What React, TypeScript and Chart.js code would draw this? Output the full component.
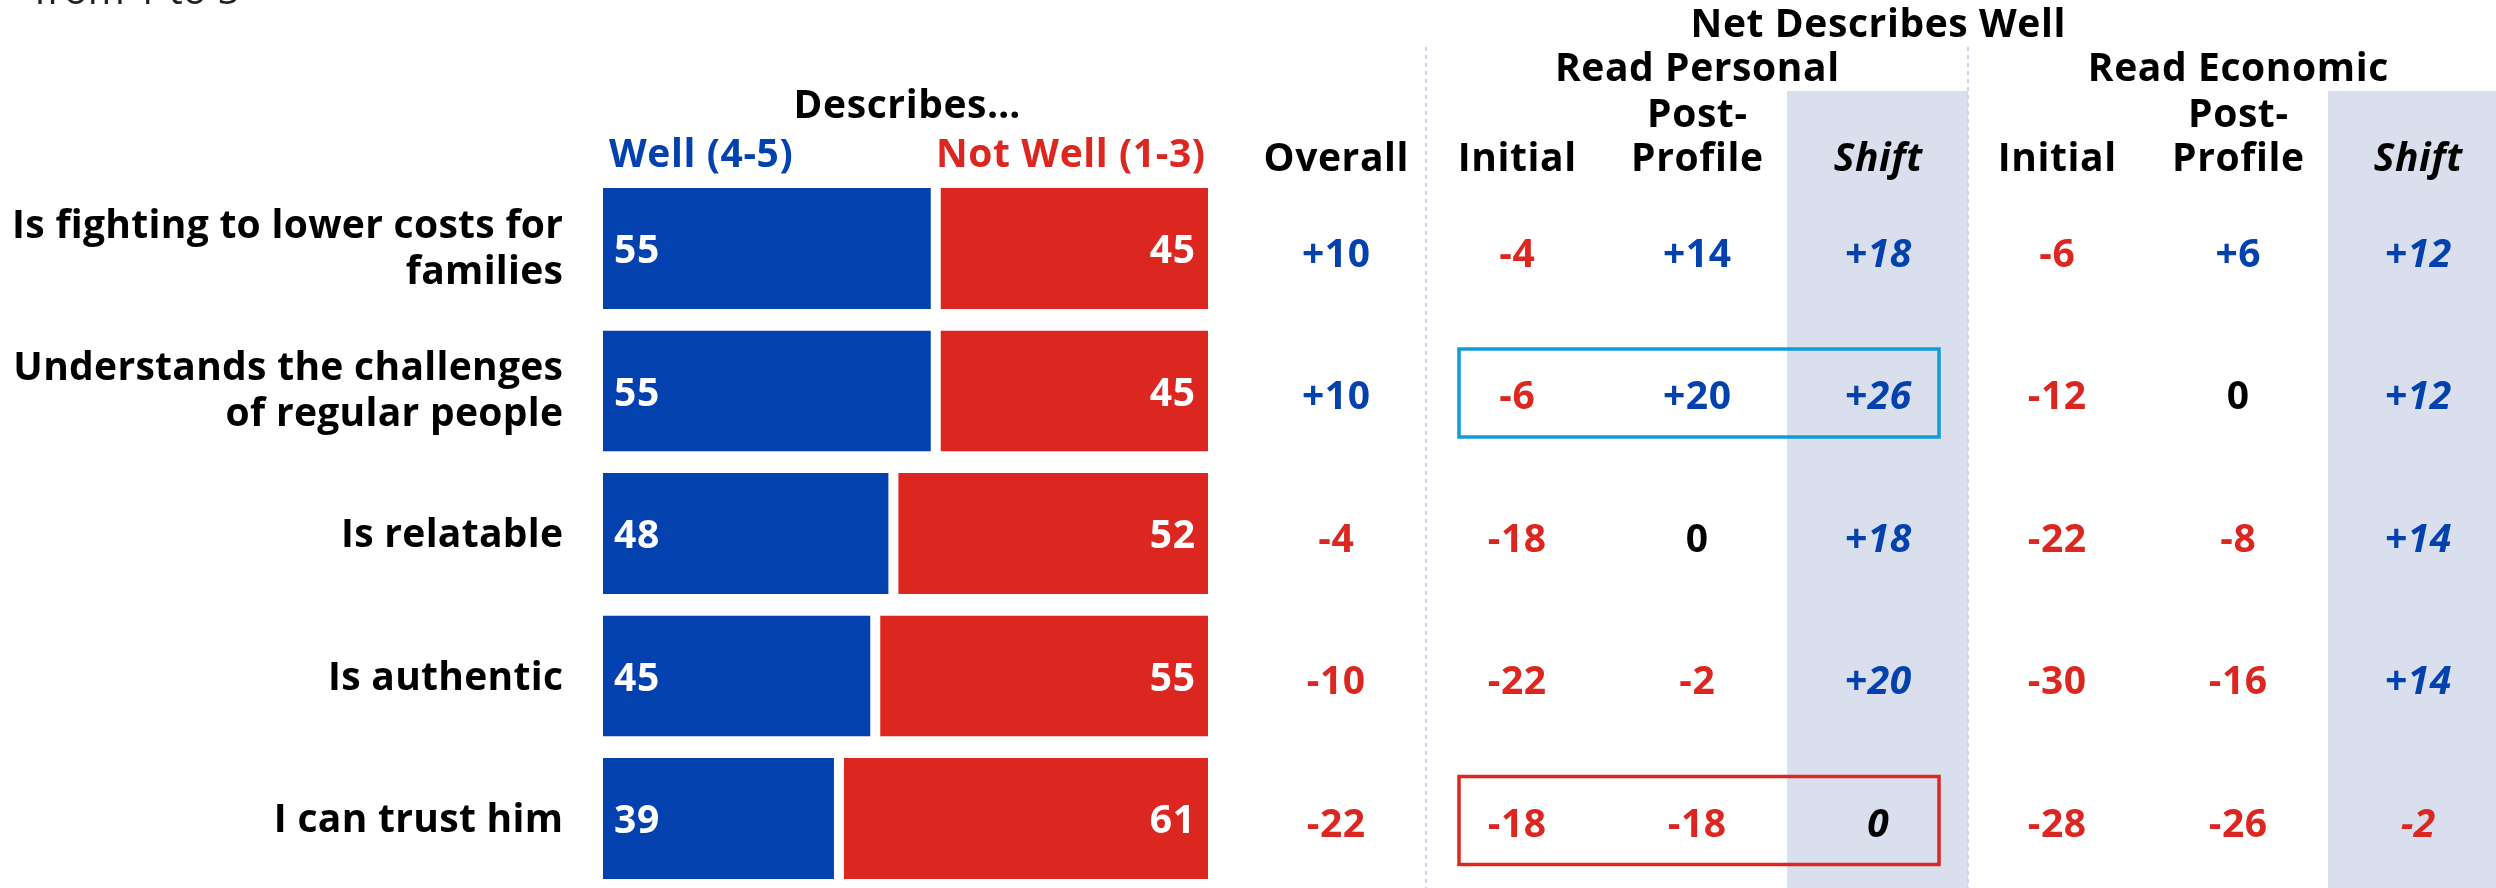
import React, { useEffect, useRef } from 'react';
import { Chart, registerables } from 'chart.js';

Chart.register(...registerables);

// ---------- data ----------
const categories: string[][] = [
  ['Is fighting to lower costs for', 'families'],
  ['Understands the challenges', 'of regular people'],
  ['Is relatable'],
  ['Is authentic'],
  ['I can trust him'],
];
const wellValues = [55, 55, 48, 45, 39];
const notWellValues = [45, 45, 52, 55, 61];

const overallNet = [10, 10, -4, -10, -22];
const personalInitial = [-4, -6, -18, -22, -18];
const personalPost = [14, 20, 0, -2, -18];
const personalShift = [18, 26, 18, 20, 0];
const economicInitial = [-6, -12, -22, -30, -28];
const economicPost = [6, 0, -8, -16, -26];
const economicShift = [12, 12, 14, 14, -2];

const subtitleText = 'from 1 to 5';
const barHeaderTitle = 'Describes…';
const wellLabel = 'Well (4-5)';
const notWellLabel = 'Not Well (1-3)';
const netTitle = 'Net Describes Well';
const groupTitles = ['Read Personal', 'Read Economic'];

// ---------- style ----------
const BLUE = '#0341ae';
const RED = '#dc2620';
const BOX_BLUE = '#129bd9';
const SHADE = '#d9dfec';
const DASH = '#cdd0e8';
const FF = '"Open Sans", "Liberation Sans", sans-serif';
const BOLD = `700 39px ${FF}`;
const ITALIC = `italic 700 39px ${FF}`;

const highlightRows = [
  { row: 1, color: BOX_BLUE },
  { row: 4, color: RED },
];

type Col = { x: number; values: number[]; head: string[]; italic?: boolean };
const columns: Col[] = [
  { x: 1336, values: overallNet, head: ['Overall'] },
  { x: 1517, values: personalInitial, head: ['Initial'] },
  { x: 1697, values: personalPost, head: ['Post-', 'Profile'] },
  { x: 1878, values: personalShift, head: ['Shift'], italic: true },
  { x: 2057, values: economicInitial, head: ['Initial'] },
  { x: 2238, values: economicPost, head: ['Post-', 'Profile'] },
  { x: 2418, values: economicShift, head: ['Shift'], italic: true },
];

const fmt = (v: number) => (v > 0 ? `+${v}` : `${v}`);
const colorOf = (v: number) => (v > 0 ? BLUE : v < 0 ? RED : '#000');

function txt(ctx: CanvasRenderingContext2D, s: string, x: number, y: number, font: string, color: string, align: CanvasTextAlign, spacing = 0.6) {
  ctx.font = font;
  (ctx as any).letterSpacing = `${spacing}px`;
  ctx.fillStyle = color;
  ctx.textAlign = align;
  ctx.textBaseline = 'alphabetic';
  const dx = align === 'center' ? spacing / 2 : align === 'right' ? spacing : 0;
  ctx.fillText(s, x + dx, y);
}

const tablePlugin = {
  id: 'tablePlugin',
  beforeDatasetsDraw(chart: any) {
    const ctx: CanvasRenderingContext2D = chart.ctx;
    const H = chart.height;
    ctx.save();
    ctx.fillStyle = SHADE;
    ctx.fillRect(1787, 91, 181, H);
    ctx.fillRect(2328, 91, 200, H);
    ctx.strokeStyle = DASH;
    ctx.lineWidth = 2;
    ctx.setLineDash([4, 4]);
    [1426, 1968].forEach((x) => {
      ctx.beginPath();
      ctx.moveTo(x, 47);
      ctx.lineTo(x, H);
      ctx.stroke();
    });
    ctx.restore();
  },
  afterDatasetsDraw(chart: any) {
    const ctx: CanvasRenderingContext2D = chart.ctx;
    const yScale = chart.scales.y;
    ctx.save();

    // clipped subtitle at top-left
    txt(ctx, subtitleText, 34, 4, `400 40px ${FF}`, '#222', 'left', 0);

    // headers
    txt(ctx, netTitle, 1878, 37, BOLD, '#000', 'center');
    txt(ctx, groupTitles[0], 1697, 81, BOLD, '#000', 'center');
    txt(ctx, groupTitles[1], 2238, 81, BOLD, '#000', 'center');
    txt(ctx, barHeaderTitle, 907, 118, BOLD, '#000', 'center');
    txt(ctx, wellLabel, 609, 167, BOLD, BLUE, 'left');
    txt(ctx, notWellLabel, 1205, 167, BOLD, RED, 'right');
    columns.forEach((c) => {
      const f = c.italic ? ITALIC : BOLD;
      if (c.head.length === 2) {
        txt(ctx, c.head[0], c.x, 127, f, '#000', 'center');
        txt(ctx, c.head[1], c.x, 171, f, '#000', 'center');
      } else {
        txt(ctx, c.head[0], c.x, 171, f, '#000', 'center');
      }
    });

    // row labels and values
    const blueMeta = chart.getDatasetMeta(0);
    const redMeta = chart.getDatasetMeta(1);
    categories.forEach((lines, i) => {
      const cy = yScale.getPixelForValue(i);
      if (lines.length === 2) {
        txt(ctx, lines[0], 563, cy - 11, BOLD, '#000', 'right', 0.3);
        txt(ctx, lines[1], 563, cy + 35, BOLD, '#000', 'right', 0.3);
      } else {
        txt(ctx, lines[0], 563, cy + 13.5, BOLD, '#000', 'right', 0.3);
      }
      const b = blueMeta.data[i];
      const r = redMeta.data[i];
      txt(ctx, String(wellValues[i]), Math.min(b.base, b.x) + 11, cy + 14.5, BOLD, '#fff', 'left');
      txt(ctx, String(notWellValues[i]), Math.max(r.base, r.x) - 13, cy + 14.5, BOLD, '#fff', 'right');
      columns.forEach((c) => {
        const v = c.values[i];
        txt(ctx, fmt(v), c.x, cy + 18, c.italic ? ITALIC : BOLD, colorOf(v), 'center');
      });
    });

    // highlight boxes
    highlightRows.forEach((h) => {
      const cy = yScale.getPixelForValue(h.row);
      ctx.strokeStyle = h.color;
      ctx.lineWidth = 3.5;
      ctx.setLineDash([]);
      ctx.strokeRect(1459, cy - 42, 480, 88);
    });
    ctx.restore();
  },
};

export default function App() {
  const ref = useRef<HTMLCanvasElement | null>(null);
  useEffect(() => {
    if (!ref.current) return;
    const chart = new Chart(ref.current, {
      type: 'bar',
      data: {
        labels: categories.map((c) => c.join(' ')),
        datasets: [
          {
            label: wellLabel,
            data: wellValues,
            backgroundColor: BLUE,
            borderColor: '#ffffff',
            borderWidth: { left: 0, right: 5, top: 0, bottom: 0 },
            borderSkipped: false,
            barPercentage: 0.849,
            categoryPercentage: 1,
          },
          {
            label: notWellLabel,
            data: notWellValues,
            backgroundColor: RED,
            borderColor: '#ffffff',
            borderWidth: { left: 5, right: 0, top: 0, bottom: 0 },
            borderSkipped: false,
            barPercentage: 0.849,
            categoryPercentage: 1,
          },
        ],
      },
      options: {
        indexAxis: 'y',
        responsive: false,
        animation: false,
        layout: { padding: { left: 603, right: 1288, top: 177.25, bottom: 10.25 } },
        scales: {
          x: { stacked: true, min: 0, max: 100, display: false },
          y: { stacked: true, display: false },
        },
        plugins: { legend: { display: false }, tooltip: { enabled: false } },
      },
      plugins: [tablePlugin],
    } as any);
    return () => chart.destroy();
  }, []);
  return (
    <div style={{ position: 'fixed', left: 0, top: 0, width: 2496, height: 888, overflow: 'hidden', background: '#fff' }}>
      <canvas ref={ref} width={2496} height={900} style={{ display: 'block', width: 2496, height: 900 }} />
    </div>
  );
}
